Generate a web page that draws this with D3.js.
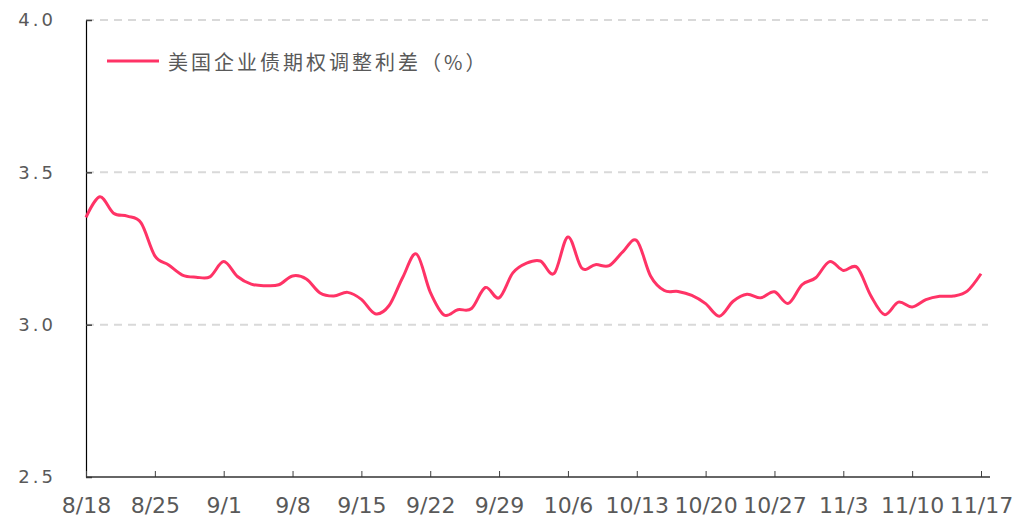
<!DOCTYPE html>
<html>
<head>
<meta charset="utf-8">
<script src="https://cdn.jsdelivr.net/npm/d3@7"></script>
<style>
body { margin: 0; background: #fff; }
</style>
</head>
<body>
<div id="chart"></div>
<script>
// business days, 8/18 to 11/17
var dates = [
  "8/18",
  "8/21","8/22","8/23","8/24","8/25",
  "8/28","8/29","8/30","8/31","9/1",
  "9/4","9/5","9/6","9/7","9/8",
  "9/11","9/12","9/13","9/14","9/15",
  "9/18","9/19","9/20","9/21","9/22",
  "9/25","9/26","9/27","9/28","9/29",
  "10/2","10/3","10/4","10/5","10/6",
  "10/9","10/10","10/11","10/12","10/13",
  "10/16","10/17","10/18","10/19","10/20",
  "10/23","10/24","10/25","10/26","10/27",
  "10/30","10/31","11/1","11/2","11/3",
  "11/6","11/7","11/8","11/9","11/10",
  "11/13","11/14","11/15","11/16","11/17"
];

// US corporate bond option-adjusted spread (%)
var oas = [
  3.352,
  3.420, 3.366, 3.356, 3.334, 3.226,
  3.196, 3.163, 3.156, 3.157, 3.207,
  3.158, 3.133, 3.128, 3.131, 3.160,
  3.150, 3.104, 3.094, 3.106, 3.083,
  3.036, 3.062, 3.155, 3.232, 3.107,
  3.032, 3.049, 3.053, 3.122, 3.088,
  3.170, 3.202, 3.209, 3.168, 3.288,
  3.186, 3.197, 3.194, 3.240, 3.276,
  3.160, 3.112, 3.109, 3.096, 3.069,
  3.028, 3.077, 3.100, 3.088, 3.108,
  3.070, 3.131, 3.154, 3.207, 3.178,
  3.188, 3.095, 3.033, 3.074, 3.058,
  3.082, 3.093, 3.094, 3.110, 3.167
];

var yTicks = [2.5, 3.0, 3.5, 4.0];
var xTicks = ["8/18","8/25","9/1","9/8","9/15","9/22","9/29","10/6","10/13","10/20","10/27","11/3","11/10","11/17"];
var seriesName = "美国企业债期权调整利差（%）";

var w = 1026, h = 518;
var mLeft = 86, mTop = 20, mRight = 990, mBottom = 477;
var lineColor = "#ff3366";

var svg = d3.select("#chart")
  .append("svg")
  .attr("width", w)
  .attr("height", h);

var x = d3.scalePoint()
  .domain(dates)
  .range([mLeft, 981]);

var y = d3.scaleLinear()
  .domain([2.5, 4.0])
  .range([mBottom, mTop]);

// dashed grid lines
svg.append("g")
  .selectAll("line")
  .data(yTicks.filter(function(d) { return d > 2.5; }))
  .enter()
  .append("line")
  .attr("x1", mLeft)
  .attr("x2", 988)
  .attr("y1", function(d) { return y(d); })
  .attr("y2", function(d) { return y(d); })
  .attr("stroke", "#d9d9d9")
  .attr("stroke-width", 2)
  .attr("stroke-dasharray", "8,6");

// Y axis
var yAxis = svg.append("g")
  .attr("transform", "translate(" + mLeft + ",0)")
  .call(d3.axisLeft(y)
    .tickValues(yTicks)
    .tickSize(-6)
    .tickSizeOuter(0)
    .tickPadding(30)
    .tickFormat(d3.format(".1f")));
yAxis.select(".domain").attr("stroke", "#000").attr("stroke-width", 1.2);
yAxis.selectAll(".tick line").attr("stroke", "#404040").attr("stroke-width", 1.5);
yAxis.selectAll("text")
  .attr("fill", "#595959")
  .attr("font-family", "DejaVu Sans")
  .attr("font-size", "18px")
  .attr("letter-spacing", "3px");

// X axis
var xAxis = svg.append("g")
  .attr("transform", "translate(0," + mBottom + ")")
  .call(d3.axisBottom(x)
    .tickValues(xTicks)
    .tickSize(-6)
    .tickSizeOuter(0)
    .tickPadding(20));
xAxis.select(".domain").remove();
xAxis.append("line")
  .attr("x1", mLeft)
  .attr("x2", mRight)
  .attr("stroke", "#333")
  .attr("stroke-width", 1.4);
xAxis.selectAll(".tick line").attr("stroke", "#404040").attr("stroke-width", 1);
xAxis.selectAll("text")
  .attr("fill", "#595959")
  .attr("font-family", "DejaVu Sans")
  .attr("font-size", "22px");

// the spread line
var line = d3.line()
  .x(function(d, i) { return x(dates[i]); })
  .y(function(d) { return y(d); })
  .curve(d3.curveCardinal.tension(0));

svg.append("path")
  .datum(oas)
  .attr("d", line)
  .attr("fill", "none")
  .attr("stroke", lineColor)
  .attr("stroke-width", 3)
  .attr("stroke-linejoin", "round");

// legend
svg.append("line")
  .attr("x1", 107)
  .attr("x2", 159)
  .attr("y1", 61)
  .attr("y2", 61)
  .attr("stroke", lineColor)
  .attr("stroke-width", 3);

svg.append("text")
  .attr("x", 168)
  .attr("y", 61)
  .attr("dominant-baseline", "central")
  .attr("fill", "#595959")
  .attr("font-family", "Noto Sans CJK SC")
  .attr("font-size", "20px")
  .attr("letter-spacing", "3px")
  .text(seriesName);
</script>
</body>
</html>
